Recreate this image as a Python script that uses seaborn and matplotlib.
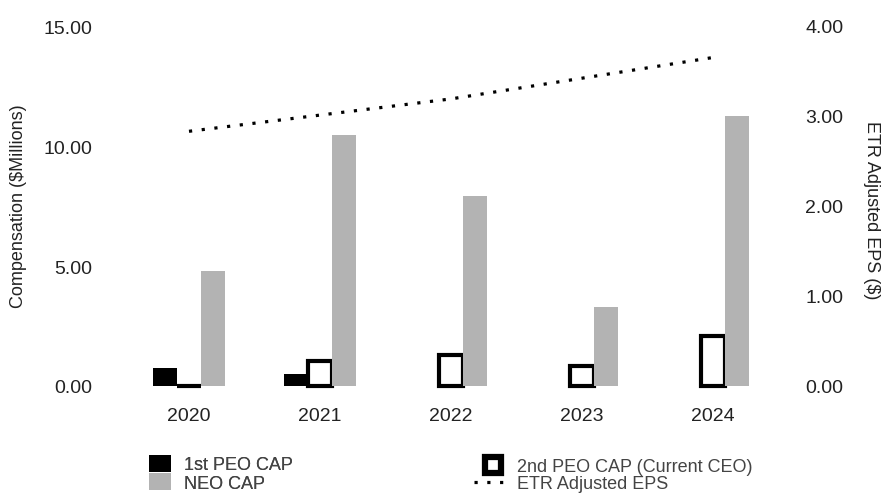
import pandas as pd
import numpy as np
import matplotlib
matplotlib.use('Agg')
import matplotlib.pyplot as plt
import seaborn as sns
from matplotlib.patches import Patch
from matplotlib.lines import Line2D
from matplotlib.ticker import FormatStrFormatter

# data
years = ['2020', '2021', '2022', '2023', '2024']
peo1_cap = [0.75, 0.50, 0.0, 0.0, 0.0]
peo2_cap = [0.0, 1.05, 1.30, 0.83, 2.10]
neo_cap = [4.80, 10.45, 7.90, 3.30, 11.25]
etr_eps = [2.83, 3.01, 3.19, 3.42, 3.65]

series = ['1st PEO CAP', '2nd PEO CAP (Current CEO)', 'NEO CAP']
colors = ['#000000', '#ffffff', '#b3b3b3']

df = pd.DataFrame({
    'year': years * 3,
    'series': [series[0]] * 5 + [series[1]] * 5 + [series[2]] * 5,
    'value': peo1_cap + peo2_cap + neo_cap,
})

sns.set_theme(style='white')
plt.rcParams['font.family'] = ['Liberation Sans', 'DejaVu Sans']

fig = plt.figure(figsize=(8.81, 5.02), dpi=100)
# axes placed in pixels: x 110..790, y 19.8..394.2 (from top)
ax = fig.add_axes([110 / 881, (502 - 394.2) / 502, 680 / 881, 374.4 / 502])

sns.barplot(data=df, x='year', y='value', hue='series', hue_order=series,
            palette=colors, width=0.55, saturation=1, legend=False, ax=ax)

# hollow bars for 2nd PEO get a thick black edge
n = len(years)
for i, p in enumerate(ax.patches[:3 * n]):
    if n <= i < 2 * n:
        p.set_edgecolor('black')
        p.set_linewidth(3)
    else:
        p.set_linewidth(0)

xlim = (-0.603, 4.588)
ax.set_xlim(*xlim)
ax.set_ylim(-0.3, 15.3)
ax.set_yticks([0, 5, 10, 15])
ax.yaxis.set_major_formatter(FormatStrFormatter('%.2f'))
ax.set_xlabel('')
ax.set_ylabel('Compensation ($Millions)', fontsize=13, color='#222222')
ax.yaxis.set_label_coords(-0.122, 0.503)
ax.tick_params(axis='y', length=0, pad=13, labelsize=14, labelcolor='#222222')
ax.tick_params(axis='x', length=0, pad=10, labelsize=14, labelcolor='#222222')
for s in ax.spines.values():
    s.set_visible(False)

dots = (0, (1, 3.0))
ax2 = ax.twinx()
sns.lineplot(x=np.arange(n), y=etr_eps, color='black', linewidth=2.3,
             linestyle=dots, ax=ax2)
ax2.set_ylim(-0.08, 4.08)
ax2.set_yticks([0, 1, 2, 3, 4])
ax2.yaxis.set_major_formatter(FormatStrFormatter('%.2f'))
ax2.set_ylabel('ETR Adjusted EPS ($)', fontsize=13, color='#222222', rotation=270)
ax2.yaxis.set_label_coords(1.132, 0.492)
ax2.tick_params(axis='y', length=0, pad=11, labelsize=14, labelcolor='#222222')
for s in ax2.spines.values():
    s.set_visible(False)
ax2.set_xlim(*xlim)

# legend, left column: filled squares
fs = 13
leg1 = fig.legend([Patch(facecolor='black', edgecolor='none'),
                   Patch(facecolor=colors[2], edgecolor='none')],
                  ['1st PEO CAP', 'NEO CAP'],
                  frameon=False, fontsize=fs, loc='lower left',
                  bbox_to_anchor=(140 / 881, 0.0), borderpad=0.0,
                  handlelength=1.22, handleheight=1.05, handletextpad=0.72,
                  labelspacing=0.0)
# right column: hollow square and dotted line
leg2 = fig.legend([Line2D([0], [0], linestyle='none', marker='s', markersize=11.5,
                          markerfacecolor='white', markeredgecolor='black',
                          markeredgewidth=4.5),
                   Line2D([0], [0], color='black', linewidth=2.3, linestyle=dots)],
                  ['2nd PEO CAP (Current CEO)', 'ETR Adjusted EPS'],
                  frameon=False, fontsize=fs, loc='lower left', numpoints=1,
                  bbox_to_anchor=(465 / 881, 0.0), borderpad=0.0,
                  handlelength=2.05, handletextpad=0.33, labelspacing=0.0)
fig.add_artist(leg1)
for lg in (leg1, leg2):
    for t in lg.get_texts():
        t.set_color('#444444')

fig.savefig('out.png', dpi=100)
